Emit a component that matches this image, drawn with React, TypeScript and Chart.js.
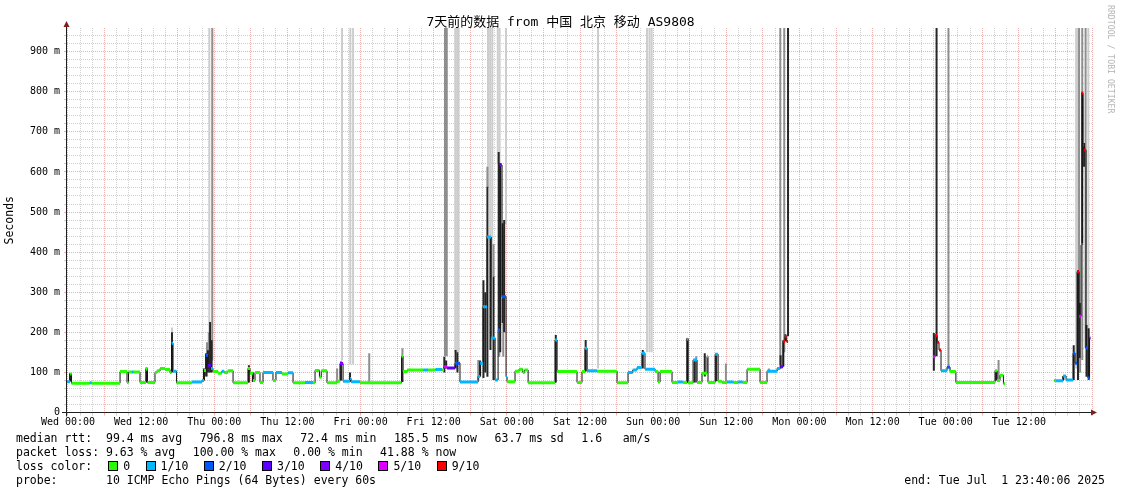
import React, { useEffect, useRef } from 'react';
import { Chart, registerables } from 'chart.js';

Chart.register(...registerables);

const MONO = "'DejaVu Sans Mono', 'Noto Sans CJK SC', monospace";

// ---------- text ----------
const TITLE = '7天前的数据 from 中国 北京 移动 AS9808';
const Y_AXIS_TITLE = 'Seconds';
const DAY_NAMES = ['Wed', 'Thu', 'Fri', 'Sat', 'Sun', 'Mon', 'Tue'];
const LEGEND_RTT = ['median rtt:  99.4 ms avg', '796.8 ms max', '72.4 ms min', '185.5 ms now', '63.7 ms sd', '1.6   am/s'];
const LEGEND_LOSS = ['packet loss: 9.63 % avg', '100.00 % max', '0.00 % min', '41.88 % now'];
const LOSS_COLOR_LABEL = 'loss color:';
const PROBE_TEXT = 'probe:       10 ICMP Echo Pings (64 Bytes) every 60s';
const END_TEXT = 'end: Tue Jul  1 23:40:06 2025';
const WATERMARK = 'RRDTOOL / TOBI OETIKER';

// ---------- axes (hours from Wed 00:00, values in ms) ----------
const X_MIN_H = -0.164;
const X_MAX_H = 168.164;
const Y_MAX_MS = 959;
const X_TICK_HOURS = Array.from({ length: 85 }, (_, i) => i * 2);
const Y_TICK_MS = Array.from({ length: 48 }, (_, i) => i * 20);

const LOSS_LABELS = ['0', '1/10', '2/10', '3/10', '4/10', '5/10', '9/10'];
const LOSS_COLORS = ['#26ff00', '#00b8ff', '#0059ff', '#5e00ff', '#7e00ff', '#dd00ff', '#ff0000'];

// ---------- median rtt steps (value holds until next hour; null = no data) ----------
const medianHours = [
  -0.16, 0.34, 0.58, 3.58, 3.88, 8.54, 9.68, 9.93, 10.49, 10.79,
  11.81, 12.79, 13.04, 14.27, 14.59, 15.11, 15.92, 16.74, 16.99, 17.23,
  17.81, 20.35, 21.98, 22.31, 22.64, 22.97, 23.46, 23.78, 24.61, 25.23,
  25.63, 26.23, 27.08, 29.53, 29.86, 30.35, 30.68, 31.5, 31.99, 33.63,
  34.12, 35.1, 36.11, 36.92, 38.89, 40.2, 40.53, 41.25, 41.55, 42.49,
  44.13, 44.62, 45.13, 46.28, 46.44, 47.91, 54.72, 54.96, 55.63, 58.29,
  59.09, 60.29, 61.39, 61.69, 62.18, 63.49, 64.31, 67.28, 67.61, 68.1,
  68.75, 69.41, 70.07, 70.56, 70.89, 71.21, 71.87, 72.03, 73.34, 74.01,
  74.61, 74.91, 75.49, 79.91, 80.24, 83.51, 84.33, 84.82, 85.17, 86.81,
  90.08, 91.88, 92.65, 93.35, 94.17, 94.66, 96.32, 96.81, 97.14, 99.1,
  100.07, 100.87, 101.56, 101.73, 102.55, 103.2, 104.02, 104.84, 105.0, 106.17,
  106.66, 107.32, 108.14, 109.19, 109.99, 110.69, 111.41, 113.54, 114.68, 116.34,
  116.83, 117.32, 117.65, 117.91, 118.14, 141.92, 142.25, 142.58, 142.9, 143.23,
  144.21, 144.71, 145.67, 152.09, 152.42, 152.91, 153.47, 153.73, 161.78, 162.1,
  163.26, 163.75, 164.9, 165.23, 165.55, 165.88, 166.2, 166.37, 166.53, 166.7,
  167.02, 167.35, 167.6, 167.75,
];
const medianMs: (number | null)[] = [
  77, 96, 73, 74, 73, 102, 75, 101, 101, 101,
  75, 108, 75, 100, 104, 110, 107, 100, 173, 103,
  74, 76, 80, 105, 143, 118, 110, 102, 98, 103,
  100, 104, 74, 110, 98, 80, 100, 75, 100, 80,
  100, 96, 99, 74, 75, 74, 105, 88, 104, 74,
  78, 122, 78, 85, 77, 74, 140, 102, 106, 106,
  106, 107, 106, 114, 111, 123, 76, 90, 123, 264,
  438, 186, 81, 206, 617, 289, 89, 77, 103, 108,
  100, 106, 74, 181, 102, 75, 102, 160, 104, 103,
  74, 100, 106, 112, 148, 108, 102, 76, 102, 75,
  76, 75, 183, 74, 131, 75, 98, 140, 75, 145,
  78, 75, 76, 75, 76, 75, 108, 75, 103, 110,
  114, 178, 189, 177, null, 139, 192, 175, 156, 104,
  113, 102, 75, 104, 80, 93, 72, null, 80, 79,
  91, 81, 148, 123, 351, 240, 418, 797, 667, 655,
  161, 86, 186, null,
];
const medianLoss = [
  1, 0, 0, 1, 0, 0, 0, 0, 1, 0,
  0, 0, 0, 0, 0, 0, 0, 0, 1, 1,
  0, 1, 1, 0, 2, 3, 1, 0, 0, 1,
  0, 0, 0, 0, 0, 0, 0, 0, 1, 0,
  1, 0, 1, 0, 1, 0, 0, 0, 0, 0,
  0, 4, 1, 1, 1, 0, 0, 0, 0, 1,
  0, 1, 0, 5, 3, 2, 1, 1, 1, 1,
  1, 1, 1, 2, 4, 2, 1, 0, 0, 0,
  0, 0, 0, 1, 0, 0, 0, 1, 1, 0,
  0, 1, 1, 1, 1, 1, 0, 0, 0, 0,
  1, 0, 1, 0, 1, 0, 0, 0, 0, 1,
  0, 0, 1, 0, 1, 0, 0, 0, 1, 1,
  3, 6, 6, 6, 0, 5, 6, 6, 6, 1,
  2, 0, 0, 0, 0, 0, 0, 0, 0, 1,
  1, 1, 2, 2, 6, 5, 5, 6, 6, 6,
  2, 2, 4, 0,
];

// ---------- smoke (ping spread), three shades ----------
const lightHours = [17.06, 23.18, 44.95, 46.32, 46.77, 63.54, 63.84, 64.09, 68.91, 69.26, 69.61, 70.51, 70.81, 71.86, 86.95, 95.0, 95.4, 95.75, 165.4, 165.65, 167.4];
const lightLow = [200, 120, 130, 120, 120, 150, 150, 150, 560, 440, 340, 620, 620, 470, 110, 150, 150, 150, 110, 110, 90];
const lightHigh = [212, 1000, 1000, 1000, 1000, 1000, 1000, 1000, 1000, 1000, 1000, 1000, 1000, 1000, 1000, 1000, 1000, 1000, 1000, 1000, 1000];

const midHours = [22.81, 23.11, 23.67, 44.15, 49.42, 54.87, 61.85, 62.14, 67.31, 68.81, 69.81, 70.76, 71.41, 103.07, 107.94, 114.99, 116.86, 117.51, 144.45, 152.67, 165.88, 166.05, 166.4, 166.4, 166.95];
const midLow = [90, 100, 130, 75, 74, 100, 140, 140, 80, 563, 339, 139, 139, 75, 75, 100, 120, 150, 113, 80, 250, 100, 131, 800, 160];
const midHigh = [175, 200, 1000, 110, 148, 160, 1000, 1000, 131, 613, 420, 206, 223, 140, 122, 110, 1000, 1000, 1000, 131, 1000, 136, 422, 1000, 1000];

const darkHours = [
  0.34, 12.89, 17.06, 22.31, 22.66, 22.96, 23.31, 23.56, 29.68, 30.33,
  44.8, 46.27, 54.87, 61.74, 62.04, 63.59, 63.89, 67.61, 68.16, 68.46,
  68.81, 69.31, 69.81, 70.66, 70.91, 71.31, 71.56, 80.03, 84.93, 94.3,
  101.62, 102.82, 104.47, 106.34, 116.91, 117.36, 117.71, 118.13, 142.05, 142.5,
  152.27, 163.3, 165.0, 165.7, 166.0, 166.4, 166.7, 167.1, 167.45,
];
const darkLow = [
  78, 75, 100, 80, 90, 100, 100, 100, 75, 76,
  80, 77, 76, 100, 110, 110, 100, 90, 86, 100,
  89, 156, 81, 206, 150, 223, 200, 75, 102, 110,
  74, 75, 90, 78, 110, 115, 178, 190, 104, 140,
  80, 81, 81, 81, 136, 422, 613, 89, 81,
];
const darkHigh = [
  98, 112, 200, 110, 148, 155, 226, 180, 118, 100,
  127, 100, 102, 139, 130, 156, 150, 130, 330, 300,
  563, 438, 339, 650, 622, 472, 480, 193, 181, 156,
  186, 131, 148, 148, 143, 180, 195, 1000, 198, 1000,
  104, 91, 168, 355, 273, 800, 672, 218, 210,
];

const SMOKE_COLORS = ['#cdcdcd', '#8e8e8e', '#262626'];
const GRID_MINOR = 'rgba(143,143,143,0.42)';
const GRID_MAJOR = 'rgba(222,79,79,0.45)';

function buildMedian() {
  const black: any[] = [];
  const colored: any[] = [];
  const segLoss: number[] = [];
  for (let i = 0; i < medianHours.length - 1; i++) {
    const v = medianMs[i];
    if (v === null) continue;
    const h0 = medianHours[i];
    const h1 = medianHours[i + 1];
    black.push({ x: h0, y: v });
    if (medianMs[i + 1] === null) {
      black.push({ x: h1, y: v });
      black.push({ x: h1, y: null });
    }
    segLoss[colored.length] = medianLoss[i];
    colored.push({ x: h0, y: v });
    colored.push({ x: h1, y: v });
    colored.push({ x: h1, y: null });
  }
  return { black, colored, segLoss };
}

function smokeData(hours: number[], low: number[], high: number[]) {
  return hours.map((h, i) => ({ x: h, y: [low[i], high[i]] }));
}

const axesPlugin = {
  id: 'rrdAxes',
  afterDraw(chart: any) {
    const { ctx, chartArea } = chart;
    const { left, right, top, bottom } = chartArea;
    const ax = Math.round(left) - 0.5;
    ctx.save();
    ctx.strokeStyle = '#1f1f1f';
    ctx.lineWidth = 1;
    ctx.beginPath();
    ctx.moveTo(ax, bottom + 4);
    ctx.lineTo(ax, top - 3);
    ctx.moveTo(left - 5, bottom);
    ctx.lineTo(right, bottom);
    ctx.stroke();
    ctx.fillStyle = '#801f1f';
    ctx.beginPath();
    ctx.moveTo(ax, top - 7);
    ctx.lineTo(ax - 3, top - 1);
    ctx.lineTo(ax + 3, top - 1);
    ctx.closePath();
    ctx.fill();
    ctx.beginPath();
    ctx.moveTo(right + 4, bottom);
    ctx.lineTo(right - 2, bottom - 3);
    ctx.lineTo(right - 2, bottom + 3);
    ctx.closePath();
    ctx.fill();
    ctx.restore();
  },
};

export default function App() {
  const ref = useRef<HTMLCanvasElement>(null);

  useEffect(() => {
    document.body.style.margin = '0';
    const { black, colored, segLoss } = buildMedian();
    const barCommon = { type: 'bar' as const, barThickness: 2, grouped: false, borderWidth: 0, inflateAmount: 0, clip: 0 };
    const chart = new Chart(ref.current as HTMLCanvasElement, {
      type: 'line',
      data: {
        datasets: [
          {
            type: 'line',
            data: colored,
            borderWidth: 3,
            borderCapStyle: 'butt',
            pointRadius: 0,
            spanGaps: false,
            borderColor: LOSS_COLORS[0],
            segment: { borderColor: (c: any) => LOSS_COLORS[segLoss[c.p0DataIndex]] ?? 'rgba(0,0,0,0)' },
            order: 1,
          } as any,
          {
            type: 'line',
            data: black,
            borderWidth: 1,
            borderColor: '#111111',
            pointRadius: 0,
            stepped: true,
            spanGaps: false,
            order: 2,
          } as any,
          { ...barCommon, data: smokeData(darkHours, darkLow, darkHigh), backgroundColor: SMOKE_COLORS[2], order: 3 } as any,
          { ...barCommon, data: smokeData(midHours, midLow, midHigh), backgroundColor: SMOKE_COLORS[1], order: 4 } as any,
          { ...barCommon, data: smokeData(lightHours, lightLow, lightHigh), backgroundColor: SMOKE_COLORS[0], order: 5 } as any,
        ],
      },
      options: {
        responsive: false,
        animation: false,
        events: [],
        layout: { padding: { left: 0, right: 0, top: 0, bottom: 0 } },
        plugins: {
          legend: { display: false },
          tooltip: { enabled: false },
          title: {
            display: true,
            text: TITLE,
            color: '#000',
            font: { family: MONO, size: 13, weight: 'normal', lineHeight: 1 },
            padding: { top: 16.5, bottom: -1.5 },
          },
        },
        scales: {
          x: {
            type: 'linear',
            min: X_MIN_H,
            max: X_MAX_H,
            offset: false,
            afterBuildTicks: (s: any) => { s.ticks = X_TICK_HOURS.map((v) => ({ value: v })); },
            afterFit: (s: any) => { s.height = 81.5; },
            grid: {
              offset: false,
              lineWidth: 1,
              color: (c: any) => (c.tick && c.tick.value % 6 === 0 ? GRID_MAJOR : GRID_MINOR),
              tickColor: (c: any) => (c.tick && c.tick.value % 6 === 0 ? GRID_MAJOR : GRID_MINOR),
              drawTicks: true,
              tickLength: 3,
              tickBorderDash: [],
            },
            border: { display: false, dash: [1, 1] },
            ticks: {
              autoSkip: false,
              maxRotation: 0,
              minRotation: 0,
              padding: 1,
              color: '#000',
              font: { family: MONO, size: 10 },
              callback: (v: any) => {
                const h = Number(v);
                if (h % 12 !== 0 || h >= 168) return '';
                return `${DAY_NAMES[Math.floor(h / 24)]} ${h % 24 === 0 ? '00:00' : '12:00'}`;
              },
            },
          },
          y: {
            type: 'linear',
            min: 0,
            max: Y_MAX_MS,
            afterBuildTicks: (s: any) => { s.ticks = Y_TICK_MS.map((v) => ({ value: v })); },
            afterFit: (s: any) => { s.width = 67; },
            grid: {
              lineWidth: 1,
              color: (c: any) => (c.tick && c.tick.value % 100 === 0 ? GRID_MAJOR : GRID_MINOR),
              tickColor: (c: any) => (c.tick && c.tick.value % 100 === 0 ? GRID_MAJOR : GRID_MINOR),
              drawTicks: true,
              tickLength: 3,
              tickBorderDash: [],
            },
            border: { display: false, dash: [1, 1] },
            title: {
              display: true,
              text: Y_AXIS_TITLE,
              color: '#000',
              font: { family: MONO, size: 11.5, lineHeight: 1 },
              padding: { top: 4.5, bottom: 0 },
            },
            ticks: {
              autoSkip: false,
              padding: 4,
              color: '#000',
              font: { family: MONO, size: 10 },
              callback: (v: any) => {
                const n = Math.round(Number(v));
                if (n % 100 !== 0) return '';
                return n === 0 ? '0' : `${n} m`;
              },
            },
          },
          yRight: {
            type: 'linear',
            position: 'right',
            display: true,
            min: 0,
            max: Y_MAX_MS,
            afterFit: (s: any) => { s.width = 28; },
            grid: { display: false, drawTicks: false },
            border: { display: false },
            ticks: { display: false },
          },
        },
      } as any,
      plugins: [axesPlugin],
    });
    return () => chart.destroy();
  }, []);

  const textBase: React.CSSProperties = {
    position: 'absolute',
    fontFamily: MONO,
    fontSize: 11.5,
    lineHeight: '14px',
    color: '#000',
    whiteSpace: 'pre',
  };

  return (
    <div style={{ position: 'relative', width: 1121, height: 494, background: '#fff', overflow: 'hidden' }}>
      <canvas ref={ref} width={1121} height={494} style={{ position: 'absolute', left: 0, top: 0, width: 1121, height: 494 }} />
      <div style={{ ...textBase, left: 16, top: 430.5, display: 'flex', gap: 17.5 }}>
        {LEGEND_RTT.map((t) => <span key={t}>{t}</span>)}
      </div>
      <div style={{ ...textBase, left: 16, top: 444.5, display: 'flex', gap: 17.5 }}>
        {LEGEND_LOSS.map((t) => <span key={t}>{t}</span>)}
      </div>
      <div style={{ ...textBase, left: 16, top: 458.5, display: 'flex', alignItems: 'center' }}>
        <span style={{ marginRight: 16 }}>{LOSS_COLOR_LABEL}</span>
        {LOSS_LABELS.map((l, i) => (
          <span key={l} style={{ display: 'flex', alignItems: 'center', marginRight: 15.5 }}>
            <span style={{ display: 'inline-block', width: 8, height: 8, border: '1px solid #000', background: LOSS_COLORS[i], marginRight: 5 }} />
            {l}
          </span>
        ))}
      </div>
      <div style={{ ...textBase, left: 16, top: 472.5 }}>{PROBE_TEXT}</div>
      <div style={{ ...textBase, right: 16, top: 472.5 }}>{END_TEXT}</div>
      <div
        style={{
          position: 'absolute',
          left: 1115,
          top: 5,
          transform: 'rotate(90deg)',
          transformOrigin: '0 0',
          fontFamily: MONO,
          fontSize: 8.2,
          lineHeight: '8.2px',
          color: '#b4b4b4',
          whiteSpace: 'pre',
        }}
      >
        {WATERMARK}
      </div>
    </div>
  );
}
